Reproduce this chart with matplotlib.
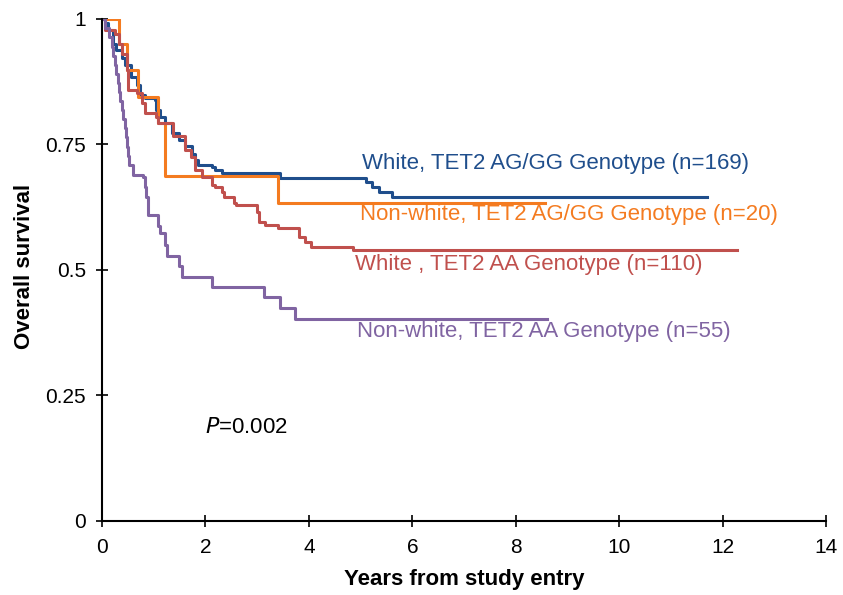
import matplotlib.pyplot as plt

plt.rcParams['font.family'] = ['Liberation Sans', 'DejaVu Sans']

# Kaplan-Meier steps (time in years, survival after step)
white_aggg_t = [0, 0.06, 0.12, 0.22, 0.28, 0.38, 0.45, 0.57, 0.67, 0.74, 0.83, 1.02, 1.05, 1.13, 1.22, 1.35, 1.48, 1.61, 1.74, 1.80, 1.86, 2.12, 2.19, 2.32, 3.44, 5.10, 5.22, 5.35, 5.60, 11.7]
white_aggg_s = [1.0, 0.991, 0.978, 0.951, 0.938, 0.922, 0.908, 0.885, 0.869, 0.849, 0.842, 0.839, 0.819, 0.805, 0.792, 0.772, 0.759, 0.746, 0.732, 0.719, 0.709, 0.706, 0.699, 0.693, 0.683, 0.675, 0.665, 0.655, 0.646, 0.646]

nonwhite_aggg_t = [0, 0.32, 0.48, 0.69, 1.09, 1.22, 3.40, 8.57]
nonwhite_aggg_s = [1.0, 0.951, 0.898, 0.845, 0.792, 0.688, 0.634, 0.634]

white_aa_t = [0, 0.06, 0.25, 0.32, 0.38, 0.48, 0.51, 0.67, 0.77, 0.83, 1.05, 1.09, 1.37, 1.60, 1.73, 1.80, 1.93, 2.12, 2.19, 2.32, 2.35, 2.56, 2.60, 2.99, 3.03, 3.16, 3.40, 3.80, 3.93, 4.05, 4.86, 12.28]
white_aa_s = [1.0, 0.978, 0.970, 0.951, 0.930, 0.898, 0.859, 0.852, 0.832, 0.812, 0.805, 0.792, 0.766, 0.739, 0.726, 0.699, 0.686, 0.669, 0.666, 0.656, 0.646, 0.633, 0.629, 0.616, 0.596, 0.590, 0.583, 0.565, 0.556, 0.546, 0.540, 0.540]

nonwhite_aa_t = [0, 0.05, 0.13, 0.19, 0.22, 0.25, 0.27, 0.30, 0.32, 0.35, 0.38, 0.41, 0.44, 0.47, 0.49, 0.50, 0.52, 0.60, 0.80, 0.83, 0.86, 0.89, 1.09, 1.12, 1.22, 1.25, 1.48, 1.55, 2.12, 3.13, 3.44, 3.73, 8.6]
nonwhite_aa_s = [1.0, 0.982, 0.964, 0.945, 0.927, 0.909, 0.891, 0.873, 0.855, 0.836, 0.818, 0.800, 0.782, 0.764, 0.745, 0.727, 0.709, 0.689, 0.686, 0.666, 0.646, 0.610, 0.588, 0.573, 0.550, 0.528, 0.507, 0.487, 0.467, 0.446, 0.424, 0.402, 0.402]

series = [
    (white_aggg_t, white_aggg_s, '#1F4E8C', 'White, TET2 AG/GG Genotype (n=169)', 5.03, 0.713),
    (nonwhite_aggg_t, nonwhite_aggg_s, '#F47B20', 'Non-white, TET2 AG/GG Genotype (n=20)', 4.99, 0.610),
    (white_aa_t, white_aa_s, '#C0504D', 'White , TET2 AA Genotype (n=110)', 4.89, 0.510),
    (nonwhite_aa_t, nonwhite_aa_s, '#8064A2', 'Non-white, TET2 AA Genotype (n=55)', 4.93, 0.378),
]

fig = plt.figure(figsize=(8.43, 5.95), dpi=100)
ax = fig.add_axes([0.121, 0.1244, 0.859, 0.8437])

for t, s, col, lab, tx, ty in series:
    ax.step(t, s, where='post', color=col, lw=2.2)
    ax.text(tx, ty, lab, color=col, fontsize=16, ha='left', va='center')

ax.text(1.99, 0.187, '$P$=0.002', fontsize=16, ha='left', va='center')

ax.set_xlim(0, 14)
ax.set_ylim(0, 1)
ax.set_xticks(range(0, 15, 2))
ax.set_yticks([0, 0.25, 0.5, 0.75, 1])
ax.set_yticklabels(['0', '0.25', '0.5', '0.75', '1'])
ax.tick_params(direction='inout', length=9, width=1.2, labelsize=15)
ax.tick_params(axis='x', pad=8)
ax.tick_params(axis='y', pad=7)
for side in ['top', 'right']:
    ax.spines[side].set_visible(False)
for side in ['left', 'bottom']:
    ax.spines[side].set_linewidth(1.5)
ax.set_xlabel('Years from study entry', fontsize=16, fontweight='bold', va='top')
ax.set_ylabel('Overall survival', fontsize=16, fontweight='bold')
ax.xaxis.set_label_coords(0.5, -0.096)
ax.yaxis.set_label_coords(-0.093, 0.508)

fig.savefig('out.png', dpi=100)
